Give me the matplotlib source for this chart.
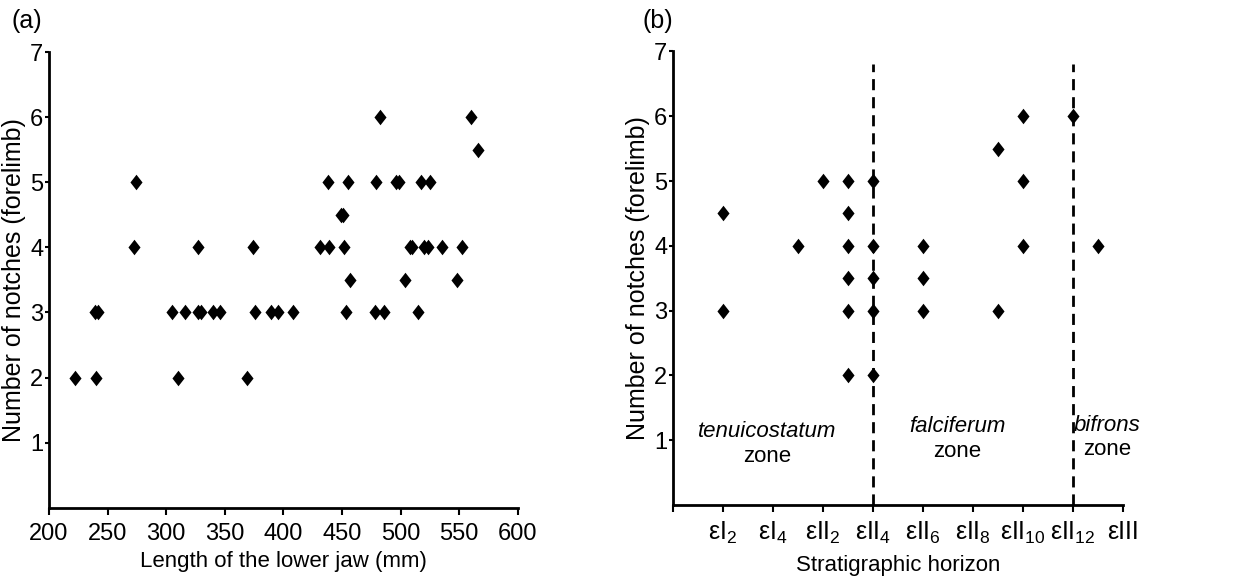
import numpy as np
import matplotlib.pyplot as plt
from matplotlib.path import Path

plt.rcParams['font.family'] = ['Liberation Sans', 'DejaVu Sans']
plt.rcParams['mathtext.fontset'] = 'custom'
plt.rcParams['mathtext.rm'] = 'Liberation Sans'
plt.rcParams['mathtext.it'] = 'Liberation Sans:italic'

# (a) jaw length vs notches
jaw_length = [274, 438, 455, 479, 496, 499, 517, 525,
              482, 560, 566, 449, 451,
              273, 327, 374, 431, 439, 452, 508, 510, 520, 523, 535, 552,
              457, 504, 548,
              239, 242, 305, 316, 327, 330, 340, 346, 376, 389, 395, 408,
              453, 478, 486, 515,
              222, 240, 310, 369]
notches_a = [5, 5, 5, 5, 5, 5, 5, 5,
             6, 6, 5.5, 4.5, 4.5,
             4, 4, 4, 4, 4, 4, 4, 4, 4, 4, 4, 4,
             3.5, 3.5, 3.5,
             3, 3, 3, 3, 3, 3, 3, 3, 3, 3, 3, 3,
             3, 3, 3, 3,
             2, 2, 2, 2]

# (b) stratigraphic horizon index vs notches
horizon_idx = [1, 1, 2.5, 3, 3.5, 3.5, 3.5, 3.5, 3.5, 3.5,
               4, 4, 4, 4, 4, 5, 5, 5,
               6.5, 6.5, 7, 7, 7, 8, 8.5]
notches_b = [4.5, 3, 4, 5, 5, 4.5, 4, 3.5, 3, 2,
             5, 4, 3.5, 3, 2, 4, 3.5, 3,
             5.5, 3, 6, 5, 4, 6, 4]
horizon_ticks = [0, 1, 2, 3, 4, 5, 6, 7, 8, 9]
horizon_labels = ['', 'εI$_2$', 'εI$_4$', 'εII$_2$', 'εII$_4$', 'εII$_6$',
                  'εII$_8$', 'εII$_{10}$', 'εII$_{12}$', 'εIII']
zone_bounds = [4, 8]
zones = [('tenuicostatum', 1.88, 1.13), ('falciferum', 5.69, 1.21),
         ('bifrons', 8.69, 1.23)]

diamond = Path([(0, 1), (0.78, 0), (0, -1), (-0.78, 0), (0, 1)],
               [Path.MOVETO, Path.LINETO, Path.LINETO, Path.LINETO, Path.CLOSEPOLY])

fig = plt.figure(figsize=(12.54, 5.85), dpi=100)
ax1 = fig.add_axes([0.039, 0.132, 0.374, 0.779])
ax2 = fig.add_axes([0.5365, 0.137, 0.3589, 0.775])


def style(ax):
    for s in ['top', 'right']:
        ax.spines[s].set_visible(False)
    for s in ['left', 'bottom']:
        ax.spines[s].set_linewidth(2)
    ax.tick_params(axis='both', labelsize=17, width=1.5, direction='out')
    ax.tick_params(axis='y', length=3, pad=1)
    ax.tick_params(axis='x', length=5, pad=6)
    ax.set_ylim(0, 7)
    ax.set_yticks([1, 2, 3, 4, 5, 6, 7])
    ax.set_ylabel('Number of notches (forelimb)', fontsize=18, labelpad=3)


ax1.scatter(jaw_length, notches_a, marker=diamond, s=125, c='black', linewidths=0, clip_on=False)
style(ax1)
ax1.set_xlim(200, 600)
ax1.set_xticks(np.arange(200, 601, 50))
ax1.set_xlabel('Length of the lower jaw (mm)', fontsize=16, labelpad=4)
fig.text(0.009, 0.952, '(a)', fontsize=18)

ax2.scatter(horizon_idx, notches_b, marker=diamond, s=125, c='black', linewidths=0, clip_on=False, zorder=3)
for xb in zone_bounds:
    ax2.plot([xb, xb], [0, 6.8], color='black', lw=2, dashes=(4, 2.5), zorder=2)
style(ax2)
ax2.set_xlim(0, 9)
ax2.set_xticks(horizon_ticks)
ax2.set_xticklabels(horizon_labels, fontsize=18)
ax2.set_xlabel('Stratigraphic horizon', fontsize=16, labelpad=6)
for name, xz, yz in zones:
    ax2.text(xz, yz, name, style='italic', fontsize=16, ha='center', va='center')
    ax2.text(xz, yz - 0.38, 'zone', fontsize=16, ha='center', va='center')
fig.text(0.512, 0.952, '(b)', fontsize=18)

fig.savefig('out.png', dpi=100)
